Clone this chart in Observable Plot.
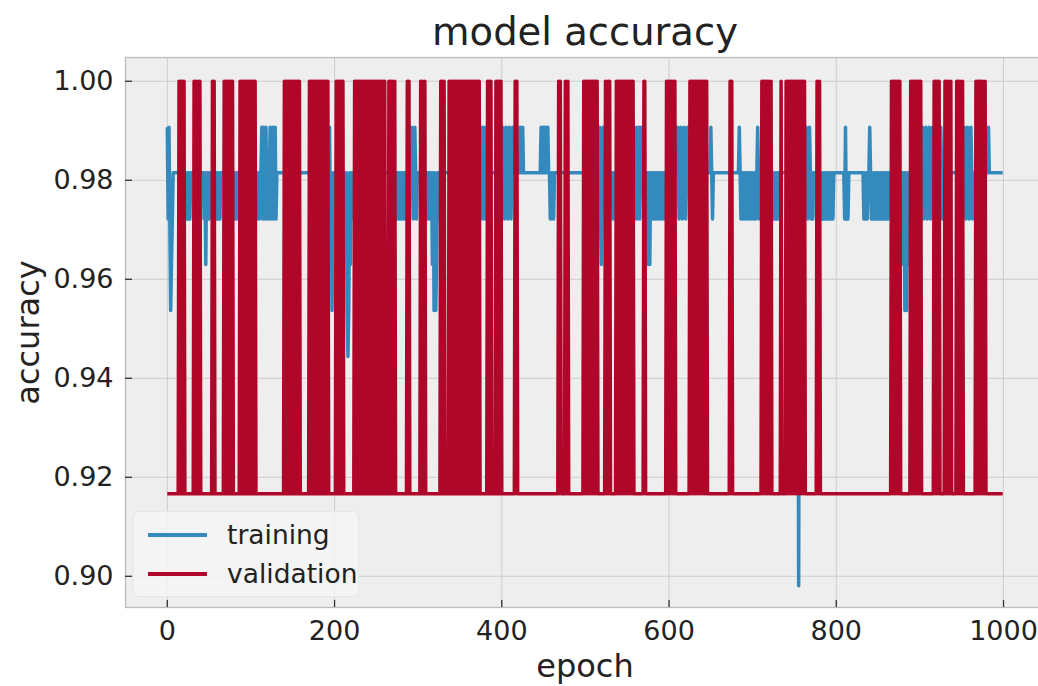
<!DOCTYPE html>
<html>
<head>
<meta charset="utf-8">
<script src="https://cdn.jsdelivr.net/npm/d3@7"></script>
<script src="https://cdn.jsdelivr.net/npm/@observablehq/plot@0.6"></script>
<style>
  html, body { margin: 0; padding: 0; background: #ffffff; overflow: hidden; width: 1038px; height: 686px; }
  #wrap { position: relative; width: 1038px; height: 686px; overflow: hidden; font-family: "DejaVu Sans", sans-serif; color: #222; }
  #wrap svg { max-width: none !important; width: 1046px !important; height: 686px !important; display: block; }
  #legend { position: absolute; left: 133px; top: 511px; width: 226px; height: 86px;
            background: rgba(244,244,244,0.85); border: 1px solid #e6e6e6; border-radius: 5px; box-sizing: border-box; }
  .entry { position: absolute; left: 0; height: 30px; width: 100%; }
  .swatch { position: absolute; left: 14px; top: 13px; width: 59px; height: 3.5px; }
  .lab { position: absolute; left: 93px; top: 0; font-size: 26.5px; line-height: 30px; white-space: nowrap; }
</style>
</head>
<body>
<div id="wrap"></div>
<script>
// ---- data ----
const xTicks = [0, 200, 400, 600, 800, 1000];
const yTicks = [0.90, 0.92, 0.94, 0.96, 0.98, 1.00];
const seriesNames = ["training", "validation"];
const seriesColors = ["#348ABD", "#AF0629"];
const epochCount = 1000;

// validation accuracy: 0.9167 except at these epochs, where it is 1.00
const valLow = 0.9167;
const valHigh = 1.0;
const valHighEpochs = [
  14,16,18,20, 32,34,37,39, 54,56, 68,70,72,74,76,78,
  87,89,91,93,95,97,99,101,103,105,
  140,142,144,146,148,150,152,154,156,158,
  170,172,174,176,178,180,182,184,186,188,190,192,
  202,204,206,208,210,
  224,226,228,230,232,234,236,238,240,242,244,246,248,250,252,254,256,258,260,265,267,269,272,
  287,289, 303,305,308,
  327,329,331,337,339,341,343,345,347,349,351,353,355,357,359,361,363,365,367,369,371,373,
  383,385,387,393,395,397,399, 416,418, 468,470,476,479,
  498,500,502,504,506,508,510,512,514, 524,527,529,
  537,539,541,543,545,547,549,551,553,555,557, 570,571,
  597,599,601,603,605,607, 625,627,629,631,633,635,637,639,641,643,645,
  673,675, 711,713,715,717,719,722,
  734,740,742,744,746,748,750,752,754,756,758,760,762, 777,780,
  866,868,870,872,874,876, 889,891,893,895,897,899,901,
  917,919,921,923, 930,932,934,937, 944,946,948,951, 967,969,971,973,975,978
];

// training accuracy: 0.9815 except at these [epoch, value] points
const trainBase = 0.9815;
const trainPoints = [
  [0,0.9907],[1,0.9722],[2,0.9907],[3,0.9722],[4,0.9537],[5,0.9630],[6,0.9722],
  [23,0.9722],[25,0.9722],[27,0.9722],
  [44,0.9722],[46,0.9630],[48,0.9722],[50,0.9722],
  [59,0.9722],[61,0.9722],[63,0.9722],[81,0.9722],[83,0.9722],[108,0.9722],[110,0.9722],
  [113,0.9907],[114,0.9722],[115,0.9907],[116,0.9722],[118,0.9907],[119,0.9722],[121,0.9722],
  [123,0.9907],[124,0.9722],[126,0.9907],[127,0.9722],[129,0.9907],[130,0.9722],
  [194,0.9907],[195,0.9722],[197,0.9537],[198,0.9722],
  [213,0.9722],[215,0.9537],[216,0.9444],[217,0.9537],[219,0.9630],[221,0.9722],
  [274,0.9722],[276,0.9722],[278,0.9722],[280,0.9722],[282,0.9722],[284,0.9722],
  [292,0.9907],[294,0.9722],[296,0.9907],[298,0.9722],
  [311,0.9722],[313,0.9722],[315,0.9722],[317,0.9630],[319,0.9537],[321,0.9537],[322,0.9630],[324,0.9722],
  [376,0.9907],[377,0.9722],[379,0.9907],[380,0.9722],
  [401,0.9907],[403,0.9722],[405,0.9907],[407,0.9722],[409,0.9907],[411,0.9722],[413,0.9907],
  [422,0.9907],[425,0.9907],
  [447,0.9907],[449,0.9907],[451,0.9907],[453,0.9907],[455,0.9907],
  [458,0.9722],[460,0.9722],[462,0.9722],
  [517,0.9907],[518,0.9722],[519,0.9630],[520,0.9722],[521,0.9907],[533,0.9722],
  [558,0.9907],[559,0.9722],[561,0.9907],[562,0.9722],[564,0.9907],[565,0.9722],[567,0.9907],
  [573,0.9722],[575,0.9630],[577,0.9630],[579,0.9722],[581,0.9722],[583,0.9722],[585,0.9722],
  [587,0.9722],[589,0.9722],[591,0.9722],[593,0.9722],[595,0.9722],
  [610,0.9907],[612,0.9722],[614,0.9907],[616,0.9722],[618,0.9907],[620,0.9722],[622,0.9907],
  [650,0.9907],[652,0.9722],
  [684,0.9907],[686,0.9722],[688,0.9722],[690,0.9722],[692,0.9722],[694,0.9722],[696,0.9722],
  [698,0.9722],[700,0.9722],[702,0.9722],[704,0.9722],[706,0.9907],[708,0.9722],
  [724,0.9722],[726,0.9722],[728,0.9722],[730,0.9722],
  [755,0.8981],
  [764,0.9907],[766,0.9722],[768,0.9907],[770,0.9722],[772,0.9722],
  [782,0.9722],[784,0.9722],[786,0.9722],[788,0.9722],[790,0.9722],[792,0.9722],[794,0.9722],[796,0.9722],
  [810,0.9722],[811,0.9907],[812,0.9722],[814,0.9722],
  [833,0.9722],[835,0.9722],[837,0.9722],[840,0.9907],[842,0.9722],[844,0.9722],[846,0.9722],
  [848,0.9722],[850,0.9722],[852,0.9722],[854,0.9722],[856,0.9722],[858,0.9722],[860,0.9722],[862,0.9722],
  [878,0.9722],[880,0.9630],[882,0.9537],[884,0.9537],[886,0.9630],[888,0.9630],[891,0.9630],[894,0.9630],
  [903,0.9907],[905,0.9722],[907,0.9907],[909,0.9722],[911,0.9907],[913,0.9722],[915,0.9907],
  [925,0.9907],[927,0.9722],
  [953,0.9907],[955,0.9722],[957,0.9907],[959,0.9722],[961,0.9907],[963,0.9722],
  [982,0.9907]
];

// ---- build tables ----
const highSet = new Set(valHighEpochs);
const trainMap = new Map(trainPoints);
const epochs = d3.range(epochCount);
const training = epochs.map(e => ({epoch: e, acc: trainMap.has(e) ? trainMap.get(e) : trainBase}));
const validation = epochs.map(e => ({epoch: e, acc: highSet.has(e) ? valHigh : valLow}));

const W = 1046, H = 686;
const mL = 125, mR = 2, mT = 57, mB = 79;
const plotW = W - mL - mR, plotH = H - mT - mB;
const tickLen = 7;

const chart = Plot.plot({
  width: W, height: H,
  marginTop: mT, marginBottom: mB, marginLeft: mL, marginRight: mR,
  style: {fontFamily: "DejaVu Sans, sans-serif", fontSize: "27px", color: "#222", background: "#ffffff", overflow: "visible"},
  x: {domain: [-50, 1049]},
  y: {domain: [0.8937, 1.0048]},
  marks: [
    Plot.frame({fill: "#eeeeee", stroke: null}),
    Plot.gridX(xTicks, {stroke: "#cdcdcd", strokeOpacity: 1, strokeWidth: 1}),
    Plot.gridY(yTicks, {stroke: "#cdcdcd", strokeOpacity: 1, strokeWidth: 1}),
    Plot.line(training, {x: "epoch", y: "acc", stroke: seriesColors[0], strokeWidth: 3.5, strokeLinejoin: "round", strokeLinecap: "butt"}),
    Plot.line(validation, {x: "epoch", y: "acc", stroke: seriesColors[1], strokeWidth: 3.5, strokeLinejoin: "round", strokeLinecap: "butt"}),
    Plot.frame({stroke: "#bcbcbc", strokeWidth: 1.3}),
    Plot.tickX(xTicks, {x: d => d, insetTop: plotH - tickLen, stroke: "#333", strokeWidth: 1.3}),
    Plot.tickY(yTicks, {y: d => d, insetRight: plotW - tickLen, stroke: "#333", strokeWidth: 1.3}),
    Plot.axisX(xTicks, {tickSize: 0, tickPadding: 13, label: null, fontSize: 27, tickFormat: d => String(d)}),
    Plot.axisY(yTicks, {tickSize: 0, tickPadding: 12, label: null, fontSize: 27, tickFormat: d => d.toFixed(2)}),
    Plot.text(["model accuracy"], {text: d => d, frameAnchor: "top", dy: -13, lineAnchor: "bottom", fontSize: 38.5, fill: "#222"}),
    Plot.text(["epoch"], {text: d => d, frameAnchor: "bottom", dy: 69, lineAnchor: "bottom", fontSize: 32, fill: "#222"}),
    Plot.text(["accuracy"], {text: d => d, frameAnchor: "left", dx: -97, rotate: -90, textAnchor: "middle", fontSize: 32, fill: "#222"})
  ]
});
chart.style.maxWidth = "none";

const wrap = document.getElementById("wrap");
wrap.appendChild(chart);

// legend inside the axes, lower left
const legend = document.createElement("div");
legend.id = "legend";
seriesNames.forEach((name, i) => {
  const row = document.createElement("div");
  row.className = "entry";
  row.style.top = (8 + i * 39) + "px";
  const sw = document.createElement("div");
  sw.className = "swatch";
  sw.style.background = seriesColors[i];
  const lab = document.createElement("div");
  lab.className = "lab";
  lab.textContent = name;
  row.appendChild(sw); row.appendChild(lab);
  legend.appendChild(row);
});
wrap.appendChild(legend);
</script>
</body>
</html>
